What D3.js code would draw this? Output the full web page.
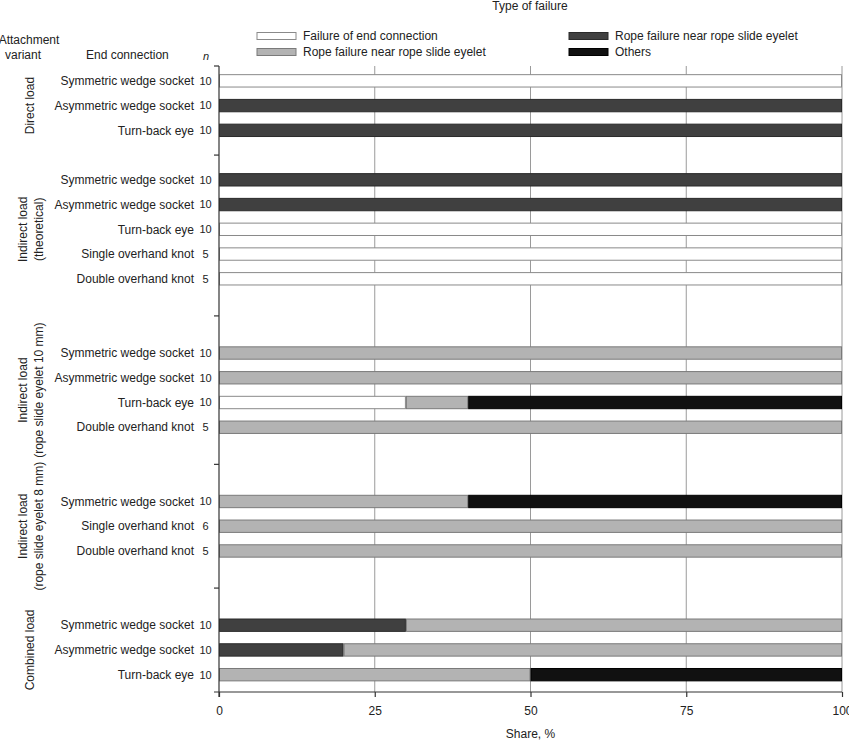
<!DOCTYPE html>
<html>
<head>
<meta charset="utf-8">
<script src="https://cdn.jsdelivr.net/npm/d3@7"></script>
<style>
  html, body { margin: 0; padding: 0; background: #fff; }
  svg { display: block; font-family: "Liberation Sans", Arial, sans-serif; }
</style>
</head>
<body>
<svg id="chart" width="849" height="742"></svg>
<script>
// ---------------- DATA ----------------
const groups = [
  ["Direct load"],
  ["Indirect load", "(theoretical)"],
  ["Indirect load", "(rope slide eyelet 10 mm)"],
  ["Indirect load", "(rope slide eyelet 8 mm)"],
  ["Combined load"]
];
const endConnections = [
  "Symmetric wedge socket", "Asymmetric wedge socket", "Turn-back eye",
  "Symmetric wedge socket", "Asymmetric wedge socket", "Turn-back eye", "Single overhand knot", "Double overhand knot",
  "Symmetric wedge socket", "Asymmetric wedge socket", "Turn-back eye", "Double overhand knot",
  "Symmetric wedge socket", "Single overhand knot", "Double overhand knot",
  "Symmetric wedge socket", "Asymmetric wedge socket", "Turn-back eye"
];
const groupOf = [0,0,0, 1,1,1,1,1, 2,2,2,2, 3,3,3, 4,4,4];
const nValues = [10,10,10, 10,10,10,5,5, 10,10,10,5, 10,6,5, 10,10,10];

const seriesNames = [
  "Failure of end connection",
  "Rope failure near rope slide eyelet",
  "Rope failure near rope slide eyelet",
  "Others"
];
// share, % per end connection (stack order: left to right)
const failureEndConnection = [100,0,0, 0,0,100,100,100, 0,0,30,0, 0,0,0, 0,0,0];
const ropeFailureDark      = [0,100,100, 100,100,0,0,0, 0,0,0,0, 0,0,0, 30,20,0];
const ropeFailureLight     = [0,0,0, 0,0,0,0,0, 100,100,10,100, 40,100,100, 70,80,50];
const others               = [0,0,0, 0,0,0,0,0, 0,0,60,0, 60,0,0, 0,0,50];
const xTicks = [0, 25, 50, 75, 100];

// ---------------- LAYOUT ----------------
const W = 849, H = 742;
const x0 = 219, x1 = 842;
const blankAfterGroup = [1, 2, 2, 2];   // empty category slots between groups
const svg = d3.select("#chart");

// slot index for each row
const slots = [];
let s = 0;
groupOf.forEach((g, i) => {
  if (i > 0 && g !== groupOf[i - 1]) s += blankAfterGroup[groupOf[i - 1]];
  slots.push(s);
  s++;
});
const lastSlot = s - 1;

const x = d3.scaleLinear().domain([0, 100]).range([x0, x1]);
const y = d3.scaleLinear().domain([-0.6, lastSlot + 0.7]).range([66, 692]);
const step = y(1) - y(0);
const barH = step * 0.5;

// separator positions (middle of blank slots)
const seps = [-0.6];
groupOf.forEach((g, i) => {
  if (i > 0 && g !== groupOf[i - 1]) seps.push((slots[i - 1] + slots[i]) / 2);
});

// gridlines
svg.append("g").selectAll("line").data(xTicks.slice(1)).join("line")
  .attr("x1", d => x(d)).attr("x2", d => x(d))
  .attr("y1", y.range()[0]).attr("y2", y.range()[1])
  .attr("stroke", "#9a9a9a").attr("stroke-width", 1);

// data rows
const keys = ["fe", "rd", "rl", "ot"];
const rows = endConnections.map((name, i) => ({
  name, n: nValues[i], slot: slots[i],
  fe: failureEndConnection[i], rd: ropeFailureDark[i], rl: ropeFailureLight[i], ot: others[i]
}));
const stack = d3.stack().keys(keys)(rows);
const fills = { fe: "#ffffff", rl: "#b3b3b3", rd: "#404040", ot: "#111111" };
const strokes = { fe: "#8a8a8a", rl: "#7a7a7a", rd: "#2a2a2a", ot: "#000000" };

stack.forEach(layer => {
  svg.append("g").selectAll("rect")
    .data(layer.filter(d => d[1] - d[0] > 0)).join("rect")
    .attr("x", d => x(d[0]) + 0.5)
    .attr("width", d => x(d[1]) - x(d[0]) - 1)
    .attr("y", d => y(d.data.slot) - barH / 2)
    .attr("height", barH)
    .attr("fill", fills[layer.key])
    .attr("stroke", strokes[layer.key])
    .attr("stroke-width", 1);
});

// left axis line + ticks
svg.append("line").attr("x1", x0).attr("x2", x0)
  .attr("y1", y.range()[0]).attr("y2", y.range()[1] + 5)
  .attr("stroke", "#333").attr("stroke-width", 1.2);
svg.append("g").selectAll("line").data(seps).join("line")
  .attr("x1", x0 - 5).attr("x2", x0)
  .attr("y1", d => y(d)).attr("y2", d => y(d))
  .attr("stroke", "#333").attr("stroke-width", 1.2);

// bottom axis
const xAxis = d3.axisBottom(x).tickValues(xTicks).tickSize(5).tickPadding(9).tickFormat(d3.format("d"));
const gx = svg.append("g").attr("transform", `translate(0,${y.range()[1]})`).call(xAxis);
gx.select(".domain").attr("d", `M${x0 - 5},0H${x1}`).attr("stroke", "#333").attr("stroke-width", 1.2);
gx.selectAll(".tick line").attr("stroke", "#333").attr("stroke-width", 1.2);
gx.selectAll("text").attr("font-size", 12).attr("fill", "#222")
  .attr("font-family", "Liberation Sans, Arial, sans-serif");

svg.append("text").attr("x", x(50)).attr("y", 738).attr("text-anchor", "middle")
  .attr("font-size", 12).attr("fill", "#222").text("Share, %");

// row labels and n
svg.append("g").selectAll("text").data(rows).join("text")
  .attr("x", 194).attr("y", d => y(d.slot)).attr("dy", "0.35em")
  .attr("text-anchor", "end").attr("font-size", 12).attr("fill", "#222")
  .text(d => d.name);
svg.append("g").selectAll("text").data(rows).join("text")
  .attr("x", 205.5).attr("y", d => y(d.slot)).attr("dy", "0.35em")
  .attr("text-anchor", "middle").attr("font-size", 11).attr("fill", "#222")
  .text(d => d.n);

// group labels (rotated)
groups.forEach((lines, gi) => {
  const sl = slots.filter((_, i) => groupOf[i] === gi);
  const cy = y((d3.min(sl) + d3.max(sl)) / 2);
  const lh = 16;
  const cx = lines.length === 1 ? 30 : 31;
  const t = svg.append("text")
    .attr("transform", `translate(${cx},${cy}) rotate(-90)`)
    .attr("text-anchor", "middle").attr("font-size", 12).attr("fill", "#222");
  lines.forEach((ln, li) => {
    t.append("tspan").attr("x", 0)
      .attr("dy", li === 0 ? (-(lines.length - 1) * lh / 2 + 4) : lh)
      .text(ln);
  });
});

// header
svg.append("text").attr("x", 29).attr("y", 44).attr("text-anchor", "middle")
  .attr("font-size", 12).attr("fill", "#222").text("Attachment");
svg.append("text").attr("x", 23).attr("y", 59).attr("text-anchor", "middle")
  .attr("font-size", 12).attr("fill", "#222").text("variant");
svg.append("text").attr("x", 86).attr("y", 59)
  .attr("font-size", 12).attr("fill", "#222").text("End connection");
svg.append("text").attr("x", 206).attr("y", 60).attr("text-anchor", "middle")
  .attr("font-size", 11).attr("font-style", "italic").attr("fill", "#222").text("n");
svg.append("text").attr("x", 530).attr("y", 10).attr("text-anchor", "middle")
  .attr("font-size", 12).attr("fill", "#222").text("Type of failure");

// legend
const legendItems = [
  { key: "fe", label: seriesNames[0], col: 0, row: 0 },
  { key: "rl", label: seriesNames[1], col: 0, row: 1 },
  { key: "rd", label: seriesNames[2], col: 1, row: 0 },
  { key: "ot", label: seriesNames[3], col: 1, row: 1 }
];
const legCols = [257, 569];
const legRows = [36, 52];
const lg = svg.append("g").selectAll("g").data(legendItems).join("g")
  .attr("transform", d => `translate(${legCols[d.col]},${legRows[d.row]})`);
lg.append("rect").attr("x", 0).attr("y", -3.5).attr("width", 39).attr("height", 7)
  .attr("fill", d => fills[d.key]).attr("stroke", d => strokes[d.key]);
lg.append("text").attr("x", 46).attr("y", 0).attr("dy", "0.35em")
  .attr("font-size", 12).attr("fill", "#222").text(d => d.label);
</script>
</body>
</html>
